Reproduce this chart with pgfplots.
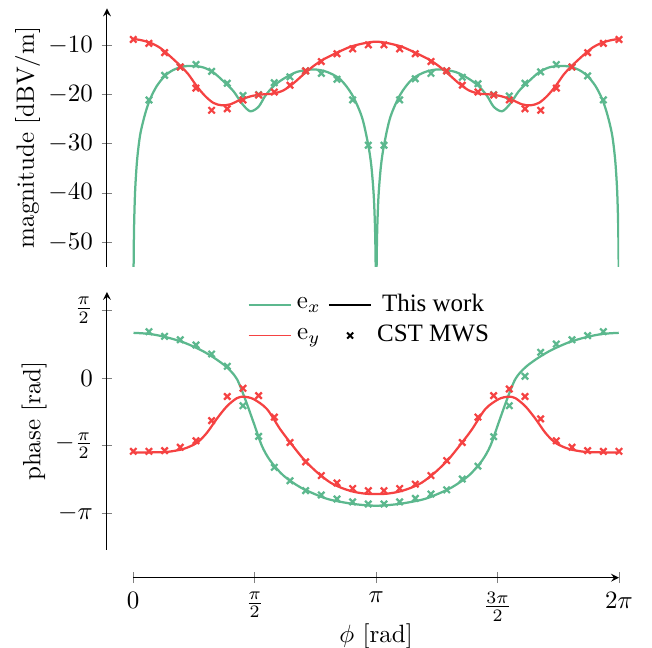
\documentclass[border=0pt]{standalone}
\usepackage{pgfplots}
\pgfplotsset{compat=1.18}
\usepackage{fontspec}
\newfontfamily\timesf{Liberation Serif}
\definecolor{cg}{RGB}{92,184,142}
\definecolor{cr}{RGB}{245,66,66}
\begin{document}
\begin{tikzpicture}[x=1pt,y=1pt]
\useasboundingbox (0,0) rectangle (260.8,-259.2);
\pgfplotsset{
  lineg/.style={cg, line width=0.9pt, smooth, no marks, forget plot},
  liner/.style={cr, line width=0.9pt, smooth, no marks, forget plot},
  mkg/.style={cg, only marks, mark=x, mark size=1.8pt, line width=0.9pt, forget plot},
  mkr/.style={cr, only marks, mark=x, mark size=1.8pt, line width=0.9pt, forget plot},
}
% ---------------- magnitude ----------------
\begin{axis}[at={(42.8pt,-106.68pt)}, anchor=south west, scale only axis,
  width=204.8pt, height=103.3pt,
  xmin=-0.340, xmax=6.2832, ymin=-55, ymax=-2.5,
  axis x line=none, axis y line=left, tick align=center,
  ytick={-50,-40,-30,-20,-10},
  ylabel={magnitude [dBV/m]}, ylabel shift=-3.6pt]
\addplot[lineg] coordinates {
(0.003,-57.7)(0.006,-51.6)(0.012,-45.6)(0.025,-39.2)(0.05,-33.2)(0.09,-28.1)
(0.152,-24.0)(0.216,-21.0)(0.303,-18.3)(0.41,-16.2)(0.518,-15.0)(0.648,-14.3)
(0.777,-14.2)(0.907,-14.5)(1.036,-15.5)(1.166,-17.3)(1.295,-19.3)(1.404,-21.8)
(1.512,-23.4)(1.62,-22.5)(1.706,-20.3)(1.814,-18.3)(1.943,-16.8)(2.117,-15.4)
(2.332,-14.9)(2.505,-15.4)(2.677,-16.9)(2.829,-20.0)(2.958,-24.6)(3.04,-30.3)
(3.08,-34.6)(3.11,-40.4)(3.126,-46.5)(3.134,-52.8)(3.1386,-60.9)};
\addplot[lineg] coordinates {
(3.1446,-60.9)(3.1492,-52.8)(3.1572,-46.5)(3.1732,-40.4)(3.2032,-34.6)(3.2432,-30.3)
(3.3252,-24.6)(3.4542,-20.0)(3.6062,-16.9)(3.7782,-15.4)(3.9512,-14.9)(4.1662,-15.4)
(4.3402,-16.8)(4.4692,-18.3)(4.5772,-20.3)(4.6632,-22.5)(4.7712,-23.4)(4.8792,-21.8)
(4.9882,-19.3)(5.1172,-17.3)(5.2472,-15.5)(5.3762,-14.5)(5.5062,-14.2)(5.6352,-14.3)
(5.7652,-15.0)(5.8732,-16.2)(5.9802,-18.3)(6.0672,-21.0)(6.1312,-24.0)(6.1932,-28.1)
(6.2332,-33.2)(6.2582,-39.2)(6.2712,-45.6)(6.2772,-51.6)(6.2802,-57.7)};
\addplot[liner] coordinates {
(0,-8.7)(0.086,-8.9)(0.216,-9.45)(0.346,-10.5)(0.475,-12.2)(0.605,-14.1)(0.713,-15.9)
(0.821,-18.3)(0.929,-20.3)(1.036,-21.7)(1.145,-22.2)(1.253,-22.0)(1.382,-21.1)
(1.534,-20.3)(1.684,-19.96)(1.814,-19.8)(1.943,-19.15)(2.073,-17.7)(2.202,-15.9)
(2.332,-14.2)(2.461,-12.85)(2.635,-11.5)(2.807,-10.3)(2.979,-9.6)(3.1416,-9.25)
(3.304,-9.6)(3.476,-10.3)(3.648,-11.5)(3.822,-12.85)(3.951,-14.2)(4.081,-15.9)
(4.210,-17.7)(4.340,-19.15)(4.469,-19.8)(4.599,-19.96)(4.749,-20.3)(4.901,-21.1)
(5.030,-22.0)(5.138,-22.2)(5.247,-21.7)(5.354,-20.3)(5.462,-18.3)(5.570,-15.9)
(5.678,-14.1)(5.808,-12.2)(5.937,-10.5)(6.067,-9.45)(6.197,-8.9)(6.2832,-8.7)};
\addplot[mkg] coordinates {
(0.2027,-21.1)(0.4054,-16.1)(0.6080,-14.4)(0.8107,-13.9)(1.0134,-15.3)(1.2161,-17.7)
(1.4188,-20.2)(1.6215,-20.0)(1.8241,-17.6)(2.0268,-16.4)(2.2295,-15.2)(2.4322,-15.7)
(2.6349,-16.9)(2.8376,-21.1)(3.0402,-30.3)(3.2429,-30.3)(3.4456,-21.1)(3.6483,-16.8)
(3.8510,-15.7)(4.0537,-15.2)(4.2563,-16.5)(4.4590,-17.8)(4.6617,-20.0)(4.8644,-20.3)
(5.0671,-17.7)(5.2698,-15.4)(5.4725,-13.9)(5.6751,-14.4)(5.8778,-16.2)(6.0805,-21.1)};
\addplot[mkr] coordinates {
(0,-8.8)(0.2027,-9.6)(0.4054,-11.5)(0.6080,-14.4)(0.8107,-18.7)(1.0134,-23.2)
(1.2161,-22.9)(1.4188,-21.1)(1.6215,-20.1)(1.8241,-19.5)(2.0268,-18.1)(2.2295,-15.2)
(2.4322,-13.3)(2.6349,-11.7)(2.8376,-10.7)(3.0402,-9.9)(3.2429,-9.9)(3.4456,-10.7)
(3.6483,-11.7)(3.8510,-13.3)(4.0537,-15.2)(4.2563,-18.1)(4.4590,-19.5)(4.6617,-20.1)
(4.8644,-21.1)(5.0671,-22.9)(5.2698,-23.2)(5.4725,-18.7)(5.6751,-14.4)(5.8778,-11.5)
(6.0805,-9.6)(6.2832,-8.8)};
\end{axis}
% ---------------- phase ----------------
\begin{axis}[at={(42.8pt,-220pt)}, anchor=south west, scale only axis,
  width=204.8pt, height=103.2pt,
  xmin=-0.340, xmax=6.2832, ymin=-4, ymax=2,
  axis x line=none, axis y line=left, tick align=center,
  ytick={1.5708,0,-1.5708,-3.1416},
  yticklabels={$\frac{\pi}{2}$,$0$,$-\frac{\pi}{2}$,$-\pi$},
  ylabel={phase [rad]}, ylabel shift=-3.5pt,
  legend columns=2,
  legend style={draw=none, fill=none, at={(axis cs:1.38,2.19)}, anchor=north west,
    /tikz/every even column/.append style={column sep=1pt}}]
\addlegendimage{legend image code/.code={\draw[cg, line width=0.6pt] (0pt,0pt) -- (17pt,0pt);}}
\addlegendentry{$\mathrm{e}_x$}
\addlegendimage{legend image code/.code={\draw[black, line width=0.6pt] (0pt,0pt) -- (17pt,0pt);}}
\addlegendentry{\timesf This work}
\addlegendimage{legend image code/.code={\draw[cr, line width=0.6pt] (0pt,0pt) -- (17pt,0pt);}}
\addlegendentry{$\mathrm{e}_y$}
\addlegendimage{legend image code/.code={\draw[black, line width=0.75pt] (7.3pt,-1.2pt) -- (9.7pt,1.2pt) (7.3pt,1.2pt) -- (9.7pt,-1.2pt);}}
\addlegendentry{\timesf CST MWS}
\addplot[lineg] coordinates {
(0.003,1.05)(0.216,1.024)(0.432,0.946)(0.648,0.83)(0.863,0.66)(1.036,0.48)(1.21,0.25)
(1.339,-0.02)(1.447,-0.49)(1.555,-1.03)(1.663,-1.575)(1.771,-1.92)(1.943,-2.27)
(2.159,-2.54)(2.375,-2.72)(2.547,-2.83)(2.85,-2.93)(3.1416,-2.97)
(3.433,-2.93)(3.736,-2.83)(3.908,-2.72)(4.124,-2.54)(4.340,-2.27)(4.512,-1.92)
(4.620,-1.575)(4.728,-1.03)(4.836,-0.49)(4.944,-0.02)(5.073,0.25)(5.247,0.48)
(5.420,0.66)(5.635,0.83)(5.851,0.946)(6.067,1.024)(6.28,1.05)};
\addplot[liner] coordinates {
(0,-1.73)(0.216,-1.73)(0.432,-1.72)(0.648,-1.65)(0.82,-1.51)(0.95,-1.28)(1.08,-0.95)
(1.21,-0.66)(1.339,-0.47)(1.43,-0.435)(1.555,-0.49)(1.728,-0.72)(1.9,-1.19)
(2.03,-1.50)(2.2,-1.88)(2.375,-2.19)(2.548,-2.43)(2.70,-2.56)(2.85,-2.645)(3.0,-2.69)
(3.1416,-2.70)(3.283,-2.69)(3.433,-2.645)(3.583,-2.56)(3.735,-2.43)(3.908,-2.19)
(4.083,-1.88)(4.253,-1.50)(4.383,-1.19)(4.555,-0.72)(4.728,-0.49)(4.853,-0.435)
(4.944,-0.47)(5.073,-0.66)(5.203,-0.95)(5.333,-1.28)(5.463,-1.51)(5.635,-1.65)
(5.851,-1.72)(6.067,-1.73)(6.2832,-1.73)};
\addplot[mkg] coordinates {
(0.2027,1.077)(0.4054,0.97)(0.6080,0.89)(0.8107,0.768)(1.0134,0.558)(1.2161,0.272)
(1.4188,-0.644)(1.6215,-1.357)(1.8241,-2.078)(2.0268,-2.39)(2.2295,-2.62)(2.4322,-2.72)
(2.6349,-2.815)(2.8376,-2.88)(3.0402,-2.93)(3.2429,-2.93)(3.4456,-2.88)(3.6483,-2.80)
(3.8510,-2.70)(4.0537,-2.60)(4.2563,-2.35)(4.4590,-2.05)(4.6617,-1.366)(4.8644,-0.644)
(5.0671,0.04)(5.2698,0.598)(5.4725,0.79)(5.6751,0.89)(5.8778,0.985)(6.0805,1.077)};
\addplot[mkr] coordinates {
(0,-1.706)(0.2027,-1.706)(0.4054,-1.69)(0.6080,-1.61)(0.8107,-1.46)(1.0134,-0.99)
(1.2161,-0.43)(1.4188,-0.24)(1.6215,-0.41)(1.8241,-0.91)(2.0268,-1.50)(2.2295,-1.95)
(2.4322,-2.27)(2.6349,-2.44)(2.8376,-2.57)(3.0402,-2.62)(3.2429,-2.62)(3.4456,-2.57)
(3.6483,-2.47)(3.8510,-2.27)(4.0537,-1.92)(4.2563,-1.50)(4.4590,-0.91)(4.6617,-0.41)
(4.8644,-0.256)(5.0671,-0.43)(5.2698,-0.95)(5.4725,-1.46)(5.6751,-1.61)(5.8778,-1.69)
(6.0805,-1.706)(6.2832,-1.706)};
\end{axis}
% ---------------- shared x axis ----------------
\begin{axis}[at={(53.3pt,-231.1pt)}, anchor=south west, scale only axis,
  width=194.3pt, height=1pt,
  xmin=0, xmax=6.2832, ymin=0, ymax=1,
  axis x line=bottom, axis y line=none, tick align=center,
  xtick={0,1.5708,3.1416,4.7124,6.2832},
  xticklabels={$0$,$\frac{\pi}{2}$,$\pi$,$\frac{3\pi}{2}$,$2\pi$},
  xlabel={$\phi$ [rad]}, xlabel shift=-6pt]
\addplot[draw=none, forget plot] coordinates {(0,0)(1,1)};
\end{axis}
\end{tikzpicture}
\end{document}
